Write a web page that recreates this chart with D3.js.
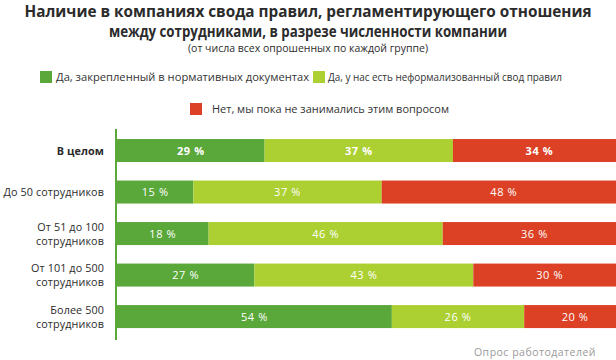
<!DOCTYPE html>
<html><head><meta charset="utf-8">
<script src="https://cdn.jsdelivr.net/npm/d3@7"></script>
<style>body{margin:0;background:#fff}svg{display:block}text{font-family:"Open Sans",sans-serif}</style>
</head><body><svg id="c" width="616" height="360"></svg>
<script>
const categories = [["В целом"],["До 50 сотрудников"],["От 51 до 100","сотрудников"],["От 101 до 500","сотрудников"],["Более 500","сотрудников"]];
const seriesNames = ["Да, закрепленный в нормативных документах","Да, у нас есть неформализованный свод правил","Нет, мы пока не занимались этим вопросом"];
const formalized = [29,15,18,27,54];
const informal = [37,37,46,43,26];
const none = [34,48,36,30,20];
const colors = ["#5aa73a","#acd032","#dc4125"];

const svg = d3.select("#c");
const title1 = "Наличие в компаниях свода правил, регламентирующего отношения";
const title2 = "между сотрудниками, в разрезе численности компании";
svg.append("text").attr("x",308).attr("y",17).attr("text-anchor","middle").attr("font-weight","bold").attr("font-size",16).attr("fill","#2b2b2b").attr("textLength",567).attr("lengthAdjust","spacingAndGlyphs").text(title1);
svg.append("text").attr("x",308).attr("y",37).attr("text-anchor","middle").attr("font-weight","bold").attr("font-size",16).attr("fill","#2b2b2b").attr("textLength",398).attr("lengthAdjust","spacingAndGlyphs").text(title2);
svg.append("text").attr("x",308).attr("y",51.5).attr("text-anchor","middle").attr("font-size",10).attr("fill","#2b2b2b").attr("textLength",240).attr("lengthAdjust","spacingAndGlyphs").text("(от числа всех опрошенных по каждой группе)");

// legend
const legend = [
  {x:40,y:71,tx:56,len:253},
  {x:313,y:71,tx:328,len:234},
  {x:190,y:103,tx:212,len:237}
];
legend.forEach((l,i)=>{
  svg.append("rect").attr("x",l.x).attr("y",l.y).attr("width",12).attr("height",12).attr("fill",colors[i]);
  svg.append("text").attr("x",l.tx).attr("y",l.y+10).attr("font-size",11).attr("fill","#333").attr("textLength",l.len).attr("lengthAdjust","spacingAndGlyphs").text(seriesNames[i]);
});

const x = d3.scaleLinear().domain([0,100]).range([117,626]);
const y = d3.scaleBand().domain(d3.range(categories.length)).range([129.9,337.2]).paddingInner(0.446).paddingOuter(0.22);

const series = [formalized, informal, none];
const g = svg.append("g");
categories.forEach((c,i)=>{
  let acc = 0;
  series.forEach((s,k)=>{
    const v = s[i];
    const x0 = x(acc), x1 = x(acc+v);
    g.append("rect").attr("x",x0).attr("y",y(i)).attr("width",x1-x0).attr("height",y.bandwidth()).attr("fill",colors[k]);
    g.append("text").attr("x",(x0+x1)/2).attr("y",y(i)+y.bandwidth()/2+4).attr("text-anchor","middle")
      .attr("font-size",11).attr("font-weight",i===0?"bold":"normal").attr("fill","#fff").attr("letter-spacing",0.6)
      .text(v+" %");
    acc += v;
  });
  const cy = y(i)+y.bandwidth()/2;
  const t = svg.append("text").attr("text-anchor","end").attr("font-size",10.8).attr("fill","#2b2b2b").attr("letter-spacing",0.1).attr("font-weight",i===0?"bold":"normal");
  const n = c.length;
  c.forEach((line,j)=>{
    t.append("tspan").attr("x",104).attr("y",cy+4+(j-(n-1)/2)*14).text(line);
  });
});

svg.append("line").attr("x1",116).attr("x2",116).attr("y1",129).attr("y2",340).attr("stroke","#5aa73a").attr("stroke-width",2);

svg.append("text").attr("x",596).attr("y",356).attr("text-anchor","end").attr("font-size",10.5).attr("fill","#9a9a9a").attr("letter-spacing",0.5).text("Опрос работодателей");
</script></body></html>
